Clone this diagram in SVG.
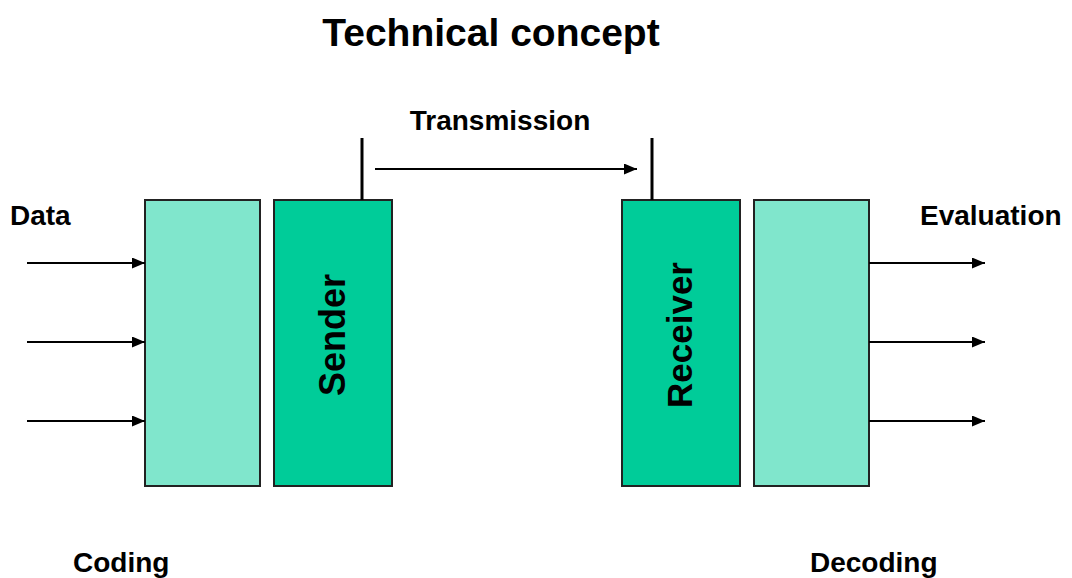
<svg xmlns="http://www.w3.org/2000/svg" width="1072" height="578" viewBox="0 0 1072 578">
<style>
.lbl{font-family:"Liberation Sans",Arial,sans-serif;font-weight:bold;font-size:28px;fill:#000}
.vlbl{font-family:"Liberation Sans",Arial,sans-serif;font-weight:bold;font-size:35px;fill:#000}
.light{fill:#80E6CC;stroke:#222;stroke-width:2}
.dark{fill:#00CC99;stroke:#222;stroke-width:2}
.ln{stroke:#000;stroke-width:2;fill:none}
.ant{stroke:#000;stroke-width:3;fill:none}
</style>
<defs>
<marker id="ah" viewBox="0 0 13 11" refX="13" refY="5.5" markerWidth="13" markerHeight="11" markerUnits="userSpaceOnUse" orient="auto">
<path d="M0,0 L13,5.5 L0,11 Z" fill="#000"/>
</marker>
</defs>
<rect width="1072" height="578" fill="#fff"/>
<text x="491" y="46" text-anchor="middle" font-family="Liberation Sans, Arial, sans-serif" font-weight="bold" font-size="39" fill="#000">Technical concept</text>
<g id="coding">
<rect class="light" x="145" y="200" width="115" height="286"/>
</g>
<g id="sender">
<rect class="dark" x="274" y="200" width="118" height="286"/>
<text class="vlbl" transform="translate(345,335) rotate(-90)" text-anchor="middle" style="font-size:36px">Sender</text>
</g>
<g id="receiver">
<rect class="dark" x="622" y="200" width="118" height="286"/>
<text class="vlbl" transform="translate(692,335) rotate(-90)" text-anchor="middle">Receiver</text>
</g>
<g id="decoding">
<rect class="light" x="754" y="200" width="115" height="286"/>
</g>
<g id="connectors">
<line class="ant" x1="362" y1="138" x2="362" y2="200"/>
<line class="ant" x1="652" y1="138" x2="652" y2="200"/>
<line class="ln" x1="375" y1="169" x2="637" y2="169" marker-end="url(#ah)"/>
<line class="ln" x1="27" y1="263" x2="145" y2="263" marker-end="url(#ah)"/>
<line class="ln" x1="27" y1="342" x2="145" y2="342" marker-end="url(#ah)"/>
<line class="ln" x1="27" y1="421" x2="145" y2="421" marker-end="url(#ah)"/>
<line class="ln" x1="869" y1="263" x2="985" y2="263" marker-end="url(#ah)"/>
<line class="ln" x1="869" y1="342" x2="985" y2="342" marker-end="url(#ah)"/>
<line class="ln" x1="869" y1="421" x2="985" y2="421" marker-end="url(#ah)"/>
</g>
<text class="lbl" x="500" y="130" text-anchor="middle">Transmission</text>
<text class="lbl" x="10" y="225">Data</text>
<text class="lbl" x="920" y="225">Evaluation</text>
<text class="lbl" x="73" y="572">Coding</text>
<text class="lbl" x="810" y="572">Decoding</text>
</svg>
